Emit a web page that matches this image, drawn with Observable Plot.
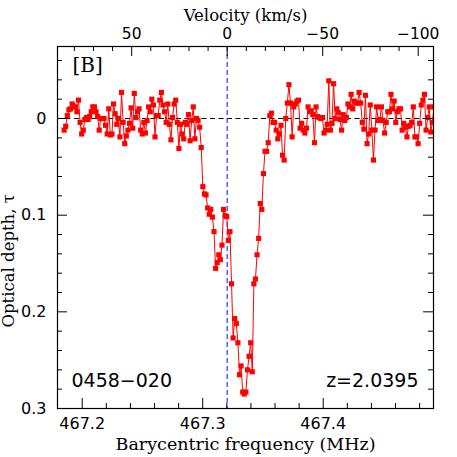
<!DOCTYPE html>
<html><head><meta charset="utf-8">
<script src="https://cdn.jsdelivr.net/npm/d3@7"></script>
<script src="https://cdn.jsdelivr.net/npm/@observablehq/plot@0.6"></script>
<style>html,body{margin:0;padding:0;background:#fff} #chart{width:457px;height:457px}</style>
</head><body><div id="chart"></div>
<script>
// Optical depth per channel (channel 0 = lowest frequency)
const tau = [
  0.012, 0.008, -0.003, -0.009, -0.010, -0.015, -0.013, -0.012, -0.007, -0.019,
  0.004, 0.016, 0.012, 0.001, -0.001, 0.001, -0.002, -0.007, -0.012, -0.012,
  -0.007, -0.002, 0.012, 0.000, 0.000, 0.000, 0.007, 0.016, -0.010, 0.017,
  0.016, -0.015, -0.005, 0.006, 0.000, 0.019, -0.027, 0.004, 0.026, 0.018,
  0.012, 0.005, -0.011, 0.010, -0.026, -0.001, -0.007, -0.010, 0.012, 0.016,
  0.004, 0.015, 0.002, -0.012, -0.007, -0.020, -0.014, 0.019, -0.003, -0.003,
  -0.019, -0.027, -0.014, -0.007, 0.004, -0.015, 0.006, 0.022, -0.001, -0.015,
  -0.019, 0.004, 0.031, 0.006, 0.016, 0.021, 0.004, 0.006, -0.004, 0.023,
  0.002, -0.012, 0.021, 0.000, 0.002, 0.009, 0.030,
  0.0705, 0.078, 0.079, 0.0925, 0.099, 0.094, 0.102, 0.117, 0.155, 0.149,
  0.141, 0.146, 0.131, 0.094, 0.1005, 0.1015, 0.126, 0.117, 0.171, 0.227,
  0.207, 0.212, 0.232, 0.265, 0.256, 0.283, 0.285, 0.283, 0.260, 0.246,
  0.232, 0.262, 0.171,
  0.166, 0.141, 0.124, 0.088, 0.094, 0.057, 0.034, 0.034, 0.025, -0.003, -0.0055,
  0.004, 0.004, 0.012, 0.021, 0.016, 0.007, 0.038, 0.043, 0.000, -0.016,
  -0.035, -0.016, 0.019, -0.012, -0.015, -0.018, -0.019, 0.010, 0.005,
  0.012, 0.015, 0.010, -0.012, -0.007, -0.008, -0.004, 0.025, -0.012, -0.002,
  -0.001, 0.000, -0.001, 0.015, 0.012, 0.006, -0.039, 0.012, 0.005, -0.036,
  0.000, -0.010, -0.006, 0.001, 0.012, -0.004,
  0.002, -0.001, -0.015, -0.012, -0.025, -0.010, -0.018, -0.016, -0.016, -0.027,
  -0.016, 0.004, 0.011, -0.024, 0.026, 0.016, -0.014, 0.012, 0.043, 0.012,
  -0.012, 0.002, 0.001, -0.012, 0.002, 0.015, 0.004, -0.007, -0.007, -0.025,
  -0.010,
  -0.018, 0.004, -0.007, -0.010, -0.010, 0.012, 0.005, 0.009, 0.019, 0.008,
  0.007, 0.004, -0.012, 0.019, 0.019, 0.026, 0.005, -0.014, -0.019, -0.025,
  0.012, -0.001, -0.012, 0.014, 0.004, -0.012
];
// Channel grid (MHz)
const firstChannelFreq = 467.1850;
const channelWidth = 0.001323;
const restFreq = 467.3203;
const mhzPerKms = 0.001585;

// Tick values
const freqMajor = [467.2, 467.3, 467.4];
const freqMinor = [467.22, 467.24, 467.26, 467.28, 467.32, 467.34, 467.36, 467.38, 467.42, 467.44, 467.46, 467.48];
const tauMajor = [0, 0.1, 0.2, 0.3];
const tauMinor = [-0.06, -0.04, -0.02, 0.02, 0.04, 0.06, 0.08, 0.12, 0.14, 0.16, 0.18, 0.22, 0.24, 0.26, 0.28];
const velMajor = [50, 0, -50, -100];
const velLabels = ["50", "0", "\u221250", "\u2212100"];
const velMinor = [80, 70, 60, 40, 30, 20, 10, -10, -20, -30, -40, -60, -70, -80, -90];

const spectrum = tau.map((t, i) => ({freq: firstChannelFreq + i * channelWidth, tau: t}));
const velToFreq = v => restFreq - v * mhzPerKms;

const W = 457, H = 457, mL = 57, mR = 24, mT = 46, mB = 49;
const iw = W - mL - mR, ih = H - mT - mB;
const maj = 10, mnr = 5;
const serif = "DejaVu Serif";

const chart = Plot.plot({
  width: W, height: H,
  marginLeft: mL, marginRight: mR, marginTop: mT, marginBottom: mB,
  style: {fontFamily: "DejaVu Sans", fontSize: "16px", background: "white", color: "black", overflow: "visible"},
  x: {domain: [467.1795, 467.4915]},
  y: {domain: [-0.0745, 0.3], reverse: true},
  marks: [
    Plot.ruleY([0], {stroke: "black", strokeDasharray: "5,3.5", strokeWidth: 1}),
    Plot.ruleX([restFreq], {stroke: "#3434ff", strokeDasharray: "5,3", strokeWidth: 1.2}),
    Plot.line(spectrum, {x: "freq", y: "tau", stroke: "red", strokeWidth: 1, clip: true}),
    Plot.dot(spectrum, {x: "freq", y: "tau", symbol: "square", r: 2.9, fill: "red", stroke: "none", clip: true}),
    Plot.tickX(freqMajor, {x: d => d, insetTop: ih - maj, stroke: "black"}),
    Plot.tickX(freqMinor, {x: d => d, insetTop: ih - mnr, stroke: "black"}),
    Plot.tickX(velMajor, {x: velToFreq, insetBottom: ih - maj, stroke: "black"}),
    Plot.tickX(velMinor, {x: velToFreq, insetBottom: ih - mnr, stroke: "black"}),
    Plot.tickY(tauMajor, {y: d => d, insetRight: iw - maj, stroke: "black"}),
    Plot.tickY(tauMinor, {y: d => d, insetRight: iw - mnr, stroke: "black"}),
    Plot.tickY(tauMajor, {y: d => d, insetLeft: iw - maj, stroke: "black"}),
    Plot.tickY(tauMinor, {y: d => d, insetLeft: iw - mnr, stroke: "black"}),
    Plot.axisX(freqMajor, {anchor: "bottom", tickSize: 0, tickPadding: 9, label: null, tickFormat: d => d.toFixed(1)}),
    Plot.axisX(velMajor.map(velToFreq), {anchor: "top", tickSize: 0, tickPadding: 8, label: null, fontSize: 15.5,
      tickFormat: d => velLabels[velMajor.findIndex(v => Math.abs(velToFreq(v) - d) < 1e-6)]}),
    Plot.axisY(tauMajor, {anchor: "left", tickSize: 0, tickPadding: 11, label: null, tickFormat: d => d === 0 ? "0" : d.toFixed(1)}),
    Plot.frame({stroke: "black", strokeWidth: 1.2}),
    Plot.text(["Barycentric frequency (MHz)"], {text: d => d, frameAnchor: "bottom", dy: 41, fontFamily: serif, fontSize: 17.5}),
    Plot.text(["Velocity (km/s)"], {text: d => d, frameAnchor: "top", dy: -37, fontFamily: serif, fontSize: 16.5}),
    Plot.text(["Optical depth, \u03c4"], {text: d => d, frameAnchor: "bottom-left", textAnchor: "start", dx: -44, dy: -81, rotate: -90, fontFamily: serif, fontSize: 16.5}),
    Plot.text(["[B]"], {text: d => d, frameAnchor: "top-left", textAnchor: "start", dx: 15, dy: 11, fontFamily: serif, fontSize: 20}),
    Plot.text(["0458\u2212020"], {text: d => d, frameAnchor: "bottom-left", textAnchor: "start", dx: 14, dy: -22, fontSize: 19}),
    Plot.text(["z=2.0395"], {text: d => d, frameAnchor: "bottom-right", textAnchor: "end", dx: -15, dy: -22, fontSize: 19})
  ]
});
document.getElementById("chart").appendChild(chart);
</script>
</body></html>
